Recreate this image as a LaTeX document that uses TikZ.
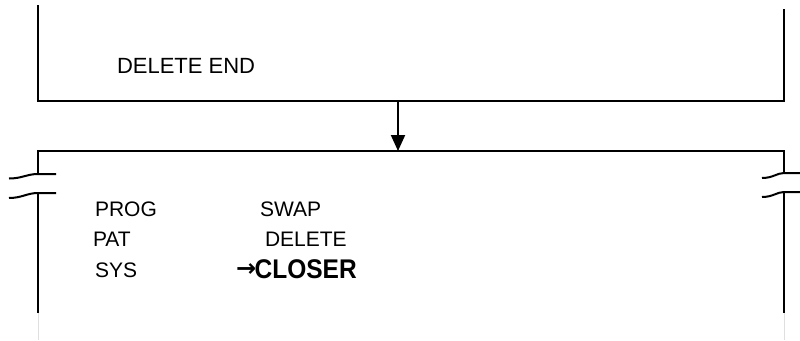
\documentclass[tikz,border=0pt]{standalone}
\usepackage{fontspec}
\setmainfont{Liberation Sans}
\newfontfamily\arrowfont{DejaVu Sans}
\usetikzlibrary{arrows.meta}
\begin{document}
\begin{tikzpicture}[x=1pt,y=-1pt,line width=2pt,
  frame/.style={line width=2pt,line join=miter},
  faint/.style={gray!25,line width=1pt},
  lbl/.style={anchor=base west,inner sep=0pt,font=\fontsize{21}{21}\selectfont},
  flow/.style={line width=2pt,-{Triangle[length=16pt,width=14pt]}}]
\useasboundingbox (0,0) rectangle (800,340);
% upper box
\draw[frame] (37.5,5) -- (37.5,101) -- (784,101) -- (784,9);
% lower box
\draw[frame] (38,174) -- (38,151) -- (784,151) -- (784,173);
\draw[frame] (38,193) -- (38,313);
\draw[frame] (784,192) -- (784,313);
\draw[faint] (38,313) -- (38,340);
\draw[faint] (784,313) -- (784,340);
% break marks
\draw[frame] (9,178.5) .. controls (22,178.5) and (27,174) .. (38,174) -- (56,174);
\draw[frame] (9,198) .. controls (22,198) and (27,193) .. (38,193) -- (56,193);
\draw[frame] (762,178) .. controls (773,178) and (777,173) .. (784,173) -- (800,173);
\draw[frame] (762,197) .. controls (773,197) and (777,192) .. (784,192) -- (800,192);
% connector
\coordinate (a1) at (398,101);
\coordinate (a2) at (398,151);
\draw[flow] (a1) -- (a2);
% texts
\node[lbl,font=\fontsize{22}{22}\selectfont] (de) at (116,73) {DELETE END};
\node[lbl] (prog) at (94,216.5) {PROG};
\node[lbl] (swap) at (259,216.5) {SWAP};
\node[lbl] (pat) at (92,246.5) {PAT};
\node[lbl] (del) at (264,246.5) {DELETE};
\node[lbl] (sys) at (94,277) {SYS};
\node[lbl,font=\bfseries\fontsize{25}{25}\selectfont] (cl) at (235,278) {\raisebox{1.5pt}{\arrowfont\bfseries\fontsize{24}{24}\selectfont →}\hspace{-1.5pt}\scalebox{0.98}[1.08]{CLOSER}};
\end{tikzpicture}
\end{document}
